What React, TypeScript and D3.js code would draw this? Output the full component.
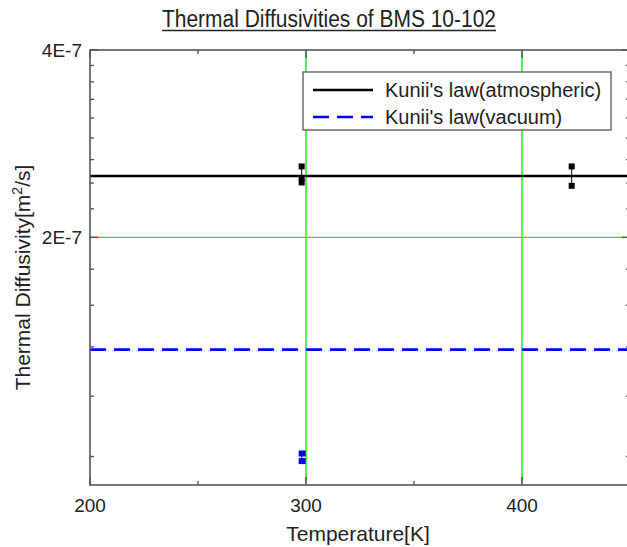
import { useEffect, useRef } from 'react';
import * as d3 from 'd3';

// Model lines (Kunii's law), constant over temperature
const modelNames = ["Kunii's law(atmospheric)", "Kunii's law(vacuum)"];
const modelValues = [2.51e-7, 1.32e-7];
const modelColors = ['#000000', '#0000ff'];
const modelDash = ['none', '16,8'];

// Measured points
const atmT = [298, 298, 298, 423, 423];
const atmD = [2.6e-7, 2.49e-7, 2.45e-7, 2.6e-7, 2.42e-7];
const vacT = [298, 298];
const vacD = [0.899e-7, 0.874e-7];

// Axes
const xDomain = [200, 450];
const yDomain = [0.8e-7, 4e-7];
const xMajor = [200, 300, 400];
const xMinor = [250, 350, 450];
const yMajor = [2e-7, 4e-7];
const yMajorLabels = ['2E-7', '4E-7'];
const xGrid = [300, 400];
const yGrid = [2e-7];

const W = 627;
const H = 547;
const FONT = "'Liberation Sans', Arial, sans-serif";

export default function App() {
  const svgRef = useRef<SVGSVGElement>(null);

  useEffect(() => {
    const root = d3.select(svgRef.current);
    root.selectAll('*').remove();

    const left = 90, top = 50, right = 630, bottom = 485;

    const x = d3.scaleLinear().domain(xDomain).range([left, right]);
    const y = d3.scaleLog().domain(yDomain).range([bottom, top]);

    // minor y ticks: 8 between majors, evenly spaced in value
    const step = 2e-7 / 9;
    const yMinor = d3.range(1, 15).map(k => 4e-7 - k * step).filter(v => v > yDomain[0] && Math.abs(v - 2e-7) > 1e-10);

    const g = root.append('g');

    // grid
    g.selectAll('line.gx').data(xGrid).enter().append('line')
      .attr('x1', d => x(d)).attr('x2', d => x(d))
      .attr('y1', top).attr('y2', bottom)
      .attr('stroke', '#00ff00').attr('stroke-width', 1.4);
    g.selectAll('line.gy').data(yGrid).enter().append('line')
      .attr('x1', left).attr('x2', right)
      .attr('y1', d => y(d)).attr('y2', d => y(d))
      .attr('stroke', '#00ff00').attr('stroke-width', 1.4);

    // model lines
    modelValues.forEach((v, i) => {
      g.append('line')
        .attr('x1', x(xDomain[0])).attr('x2', x(xDomain[1]))
        .attr('y1', y(v)).attr('y2', y(v))
        .attr('stroke', modelColors[i]).attr('stroke-width', 2.6)
        .attr('stroke-dasharray', modelDash[i]);
    });

    // error ranges (vertical line between min and max at each temperature)
    const drawRanges = (ts: number[], ds: number[], color: string) => {
      const groups = d3.group(ts.map((t, i) => ({ t, d: ds[i] })), p => p.t);
      groups.forEach((pts, t) => {
        const ext = d3.extent(pts, p => p.d) as [number, number];
        g.append('line')
          .attr('x1', x(t)).attr('x2', x(t))
          .attr('y1', y(ext[0])).attr('y2', y(ext[1]))
          .attr('stroke', color).attr('stroke-width', 1);
      });
    };
    drawRanges(atmT, atmD, '#000');
    drawRanges(vacT, vacD, '#0000ff');

    const s = 6;
    g.selectAll('rect.atm').data(atmT).enter().append('rect')
      .attr('x', d => x(d) - s / 2)
      .attr('y', (d, i) => y(atmD[i]) - s / 2)
      .attr('width', s).attr('height', s).attr('fill', '#000');
    g.selectAll('rect.vac').data(vacT).enter().append('rect')
      .attr('x', d => x(d) - s / 2)
      .attr('y', (d, i) => y(vacD[i]) - s / 2)
      .attr('width', s + 1).attr('height', s).attr('fill', '#0000ff');

    // frame
    const axisColor = '#555';
    g.append('rect')
      .attr('x', left).attr('y', top)
      .attr('width', right - left).attr('height', bottom - top)
      .attr('fill', 'none').attr('stroke', axisColor).attr('stroke-width', 1.6);

    // ticks (inward, mirrored)
    const tick = (x1: number, y1: number, x2: number, y2: number) =>
      g.append('line').attr('x1', x1).attr('y1', y1).attr('x2', x2).attr('y2', y2)
        .attr('stroke', axisColor).attr('stroke-width', 1.4);
    xMajor.forEach(v => { tick(x(v), bottom, x(v), bottom - 8); tick(x(v), top, x(v), top + 8); });
    xMinor.forEach(v => { tick(x(v), bottom, x(v), bottom - 4); tick(x(v), top, x(v), top + 4); });
    yMajor.forEach(v => { tick(left, y(v), left + 8, y(v)); tick(right, y(v), right - 8, y(v)); });
    yMinor.forEach(v => { tick(left, y(v), left + 4, y(v)); tick(right, y(v), right - 4, y(v)); });

    // tick labels
    g.selectAll('text.xt').data(xMajor).enter().append('text')
      .attr('x', d => x(d)).attr('y', bottom + 27)
      .attr('text-anchor', 'middle')
      .attr('font-family', FONT).attr('font-size', 19).attr('fill', '#222')
      .text(d => d);
    g.selectAll('text.yt').data(yMajor).enter().append('text')
      .attr('x', left - 8).attr('y', d => y(d) + 7)
      .attr('text-anchor', 'end')
      .attr('font-family', FONT).attr('font-size', 19).attr('fill', '#222')
      .text((d, i) => yMajorLabels[i]);

    // axis titles
    root.append('text')
      .attr('x', 358).attr('y', 541)
      .attr('text-anchor', 'middle')
      .attr('font-family', FONT).attr('font-size', 21).attr('fill', '#222')
      .text('Temperature[K]');

    const yl = root.append('text')
      .attr('transform', `translate(30,${(top + bottom) / 2 + 10}) rotate(-90)`)
      .attr('text-anchor', 'middle')
      .attr('font-family', FONT).attr('font-size', 21).attr('fill', '#222');
    yl.append('tspan').text('Thermal Diffusivity[m');
    yl.append('tspan').attr('dy', -8).attr('font-size', 14).text('2');
    yl.append('tspan').attr('dy', 8).text('/s]');

    // title with underline
    const title = root.append('text')
      .attr('x', 329).attr('y', 27)
      .attr('text-anchor', 'middle')
      .attr('font-family', FONT).attr('font-size', 23).attr('fill', '#222')
      .attr('textLength', 334).attr('lengthAdjust', 'spacingAndGlyphs')
      .text('Thermal Diffusivities of BMS 10-102');
    const tb = (title.node() as SVGTextElement).getBBox();
    root.append('line')
      .attr('x1', tb.x).attr('x2', tb.x + tb.width)
      .attr('y1', 30.5).attr('y2', 30.5)
      .attr('stroke', '#222').attr('stroke-width', 1.3);

    // legend
    const lg = root.append('g');
    lg.append('rect')
      .attr('x', 303).attr('y', 72).attr('width', 308).attr('height', 58)
      .attr('fill', '#fff').attr('stroke', axisColor).attr('stroke-width', 1.3);
    modelNames.forEach((name, i) => {
      const ly = 90 + i * 27;
      lg.append('line')
        .attr('x1', 313).attr('x2', 373).attr('y1', ly).attr('y2', ly)
        .attr('stroke', modelColors[i]).attr('stroke-width', 2.6)
        .attr('stroke-dasharray', modelDash[i]);
      lg.append('text')
        .attr('x', 385).attr('y', ly + 7)
        .attr('font-family', FONT).attr('font-size', 20).attr('fill', '#222')
        .text(name);
    });
  }, []);

  return (
    <svg ref={svgRef} width={W} height={H}
      style={{ position: 'absolute', left: 0, top: 0, display: 'block', background: '#fff' }} />
  );
}
